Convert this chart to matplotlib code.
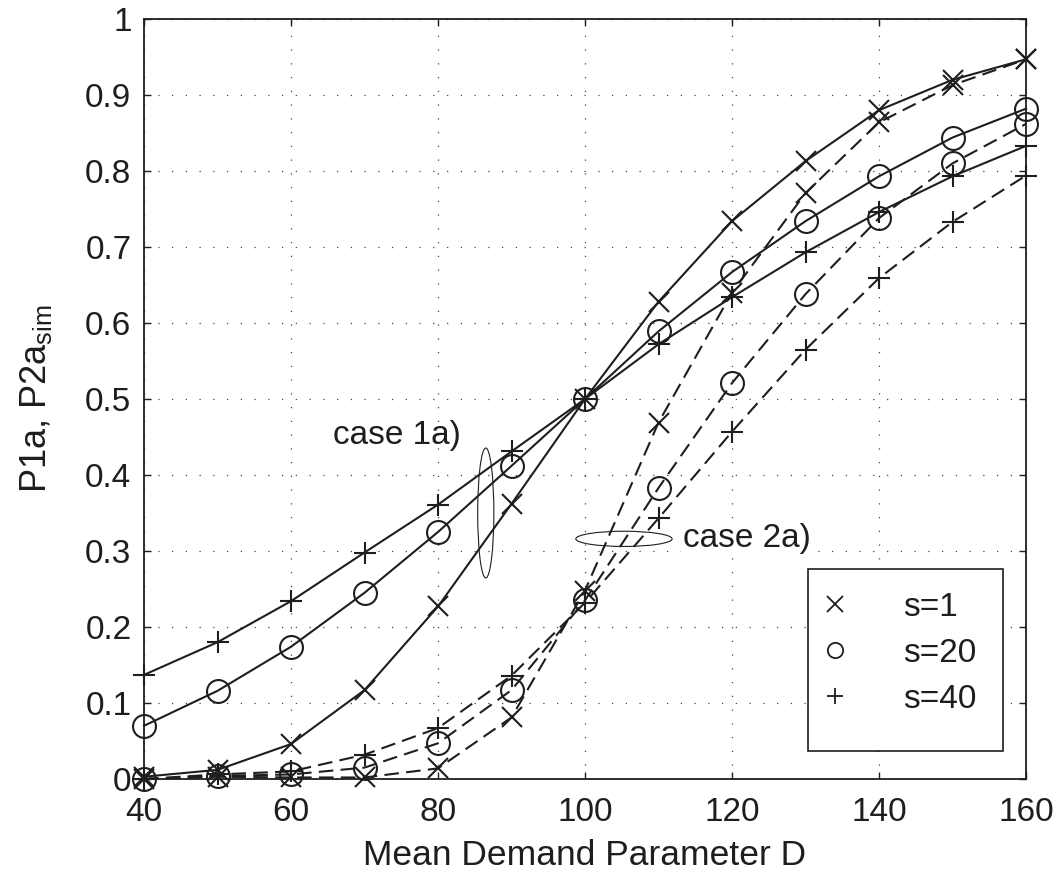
import matplotlib
matplotlib.use('Agg')
import matplotlib.pyplot as plt
from matplotlib.patches import Ellipse, Rectangle
from matplotlib.lines import Line2D
import numpy as np

plt.rcParams['font.family'] = ['Liberation Sans', 'DejaVu Sans']
plt.rcParams['mathtext.fontset'] = 'custom'
plt.rcParams['mathtext.rm'] = 'Liberation Sans'

# mean demand parameter D
demand = [40, 50, 60, 70, 80, 90, 100, 110, 120, 130, 140, 150, 160]

# case 1a (solid lines)
c1_s1 = [0.003, 0.012, 0.046, 0.117, 0.227, 0.362, 0.500, 0.628, 0.734, 0.813, 0.880, 0.920, 0.947]
c1_s20 = [0.070, 0.116, 0.174, 0.245, 0.325, 0.412, 0.500, 0.589, 0.667, 0.734, 0.793, 0.844, 0.882]
c1_s40 = [0.137, 0.180, 0.234, 0.298, 0.361, 0.431, 0.500, 0.572, 0.634, 0.693, 0.746, 0.793, 0.833]

# case 2a (dashed lines)
c2_s1 = [0.000, 0.003, 0.002, 0.002, 0.014, 0.081, 0.248, 0.469, 0.640, 0.771, 0.864, 0.913, 0.947]
c2_s20 = [0.000, 0.004, 0.006, 0.015, 0.047, 0.117, 0.235, 0.383, 0.521, 0.638, 0.738, 0.810, 0.862]
c2_s40 = [0.000, 0.006, 0.010, 0.032, 0.067, 0.136, 0.232, 0.343, 0.457, 0.565, 0.659, 0.733, 0.794]

markers = ['x', 'o', '+']
marker_sizes = [15, 16.5, 16]
legend_labels = ['s=1', 's=20', 's=40']

xticks = [40, 60, 80, 100, 120, 140, 160]
yticks = [0, 0.1, 0.2, 0.3, 0.4, 0.5, 0.6, 0.7, 0.8, 0.9, 1.0]
ytick_labels = ['0', '0.1', '0.2', '0.3', '0.4', '0.5', '0.6', '0.7', '0.8', '0.9', '1']

ink = '#1e1e1e'
fs = 24

fig = plt.figure(figsize=(10.61, 8.71), dpi=100)
ax = fig.add_axes([144/1061, 1 - 779/871, 882/1061, 760/871])

style = dict(color=ink, lw=1.5, mew=1.5, mfc='none', clip_on=False, zorder=3)
for vals, m, ms in zip([c1_s1, c1_s20, c1_s40], markers, marker_sizes):
    ax.plot(demand, vals, marker=m, markersize=ms, linestyle='-', **style)
for vals, m, ms in zip([c2_s1, c2_s20, c2_s40], markers, marker_sizes):
    ax.plot(demand, vals, marker=m, markersize=ms, linestyle=(0, (7, 3.5)), **style)

ax.set_xlim(40, 160)
ax.set_ylim(0, 1)
ax.set_xticks(xticks)
ax.set_yticks(yticks)
ax.set_yticklabels(ytick_labels)
ax.grid(True, linestyle=(0, (1, 10)), color='#444444', lw=0.9)
ax.tick_params(direction='in', top=True, right=True, length=5, width=1,
               labelsize=fs, colors=ink)
ax.tick_params(axis='x', pad=13)
ax.tick_params(axis='y', pad=9)
for sp in ax.spines.values():
    sp.set_linewidth(1.3)
    sp.set_color(ink)

ax.set_xlabel('Mean Demand Parameter D', fontsize=25.5, color=ink, labelpad=8)
ax.set_ylabel('P1a, P2a$_{\\mathregular{sim}}$', fontsize=26, color=ink)
ax.yaxis.set_label_coords(-0.102, 0.5)

# annotations
ax.add_patch(Ellipse((86.5, 0.35), 2.2, 0.171, fill=False, lw=0.8, ec=ink, zorder=4))
ax.add_patch(Ellipse((105.3, 0.316), 13.1, 0.020, fill=False, lw=0.8, ec=ink, zorder=4))
ax.text(65.7, 0.452, 'case 1a)', fontsize=fs, color=ink, ha='left', va='center')
ax.text(113.3, 0.316, 'case 2a)', fontsize=fs, color=ink, ha='left', va='center',
        bbox=dict(fc='white', ec='none', pad=1))

# legend box
ax.add_patch(Rectangle((0.7528, 0.0368), 0.2211, 0.2395, transform=ax.transAxes,
                       fc='white', ec=ink, lw=1.2, zorder=5))
handles = [Line2D([], [], ls='none', marker=m, color=ink, markersize=11, mew=1.3, mfc='none')
           for m in markers]
leg = ax.legend(handles, legend_labels, loc='upper left', bbox_to_anchor=(0.7528, 0.264),
                borderaxespad=0, borderpad=0.4, handlelength=0.82, handletextpad=1.63,
                labelspacing=0.45, frameon=False, fontsize=fs)
leg.set_zorder(6)
for t in leg.get_texts():
    t.set_color(ink)

plt.savefig('out.png', dpi=100)
